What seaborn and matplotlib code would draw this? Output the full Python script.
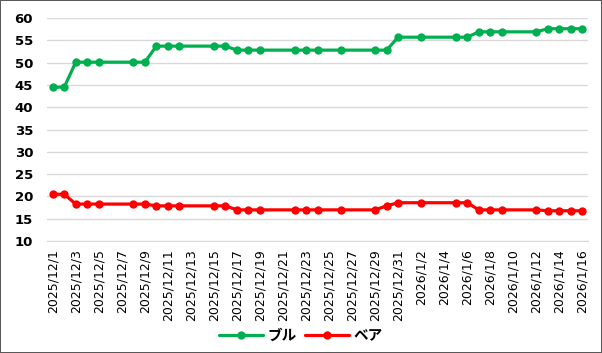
import pandas as pd
import numpy as np
import seaborn as sns
import matplotlib.pyplot as plt

# trading days shown in the chart
dates = ['2025-12-01', '2025-12-02', '2025-12-03', '2025-12-04', '2025-12-05',
         '2025-12-08', '2025-12-09', '2025-12-10', '2025-12-11', '2025-12-12',
         '2025-12-15', '2025-12-16', '2025-12-17', '2025-12-18', '2025-12-19',
         '2025-12-22', '2025-12-23', '2025-12-24', '2025-12-26', '2025-12-29',
         '2025-12-30', '2025-12-31', '2026-01-02', '2026-01-05', '2026-01-06',
         '2026-01-07', '2026-01-08', '2026-01-09', '2026-01-12', '2026-01-13',
         '2026-01-14', '2026-01-15', '2026-01-16']
bull = [44.5, 44.5, 50.1, 50.1, 50.1, 50.1, 50.1, 53.7, 53.7, 53.7,
        53.7, 53.7, 52.8, 52.8, 52.8, 52.8, 52.8, 52.8, 52.8, 52.8,
        52.8, 55.7, 55.7, 55.7, 55.7, 56.9, 56.9, 56.9, 56.9, 57.6,
        57.6, 57.6, 57.6]
bear = [20.5, 20.5, 18.3, 18.3, 18.3, 18.3, 18.3, 17.9, 17.9, 17.9,
        17.9, 17.9, 17.0, 17.0, 17.0, 17.0, 17.0, 17.0, 17.0, 17.0,
        17.9, 18.6, 18.6, 18.6, 18.6, 17.0, 17.0, 17.0, 17.0, 16.8,
        16.8, 16.8, 16.8]
series_names = ['ブル', 'ベア']
palette = ['#00B050', '#FF0000']
axis_start = '2025-12-01'
axis_end = '2026-01-16'

sns.set_style('white')
plt.rcParams['font.family'] = ['DejaVu Sans', 'Noto Sans CJK JP']
plt.rcParams['text.color'] = 'black'

start = pd.Timestamp(axis_start)
day = (pd.to_datetime(dates) - start).days
df = pd.concat([
    pd.DataFrame({'day': day, 'value': bull, 'series': series_names[0]}),
    pd.DataFrame({'day': day, 'value': bear, 'series': series_names[1]}),
], ignore_index=True)

fig = plt.figure(figsize=(6.02, 3.53), dpi=100, linewidth=1.2, edgecolor='#595959')
ax = fig.add_axes([0.078, 0.317, 0.899, 0.632])

for name, col in zip(series_names, palette):
    sns.lineplot(data=df[df['series'] == name], x='day', y='value', ax=ax,
                 color=col, linewidth=2.3, marker='o', markersize=7,
                 markeredgewidth=0, label=name)

# date axis: labels every 2 days, tick marks between days
tick_days = pd.date_range(axis_start, axis_end, freq='2D')
n_days = (pd.Timestamp(axis_end) - start).days
ax.set_xlim(-0.5, n_days + 0.5)
ax.set_xticks((tick_days - start).days)
ax.set_xticklabels([f"{d.year}/{d.month}/{d.day}" for d in tick_days],
                   rotation=90, fontsize=9, color='black')
ax.set_xticks(np.arange(-0.5, n_days, 2), minor=True)
ax.tick_params(axis='x', which='major', length=0, pad=6)
ax.tick_params(axis='x', which='minor', length=5, color='#D9D9D9', width=1)

ax.set_ylim(10, 60)
ax.set_yticks(range(10, 61, 5))
ax.tick_params(axis='y', length=0, pad=10, labelsize=9.5, labelcolor='black')
for lbl in ax.get_yticklabels():
    lbl.set_fontweight('bold')
ax.grid(axis='y', color='#D9D9D9', linewidth=1)
ax.set_axisbelow(True)
ax.set_xlabel('')
ax.set_ylabel('')
for s in ['top', 'right', 'left']:
    ax.spines[s].set_visible(False)
ax.spines['bottom'].set_color('#D9D9D9')

handles, labels = ax.get_legend_handles_labels()
for h in handles:
    h.set_markersize(6)
ax.legend_.remove()
fig.legend(handles, labels, loc='center', bbox_to_anchor=(0.5, 0.05), ncol=2,
           frameon=False, handlelength=3.0, columnspacing=0.6, handletextpad=0.3,
           labelcolor='black', prop={'weight': 'bold', 'size': 10.5})

fig.savefig('out.png', dpi=100)
